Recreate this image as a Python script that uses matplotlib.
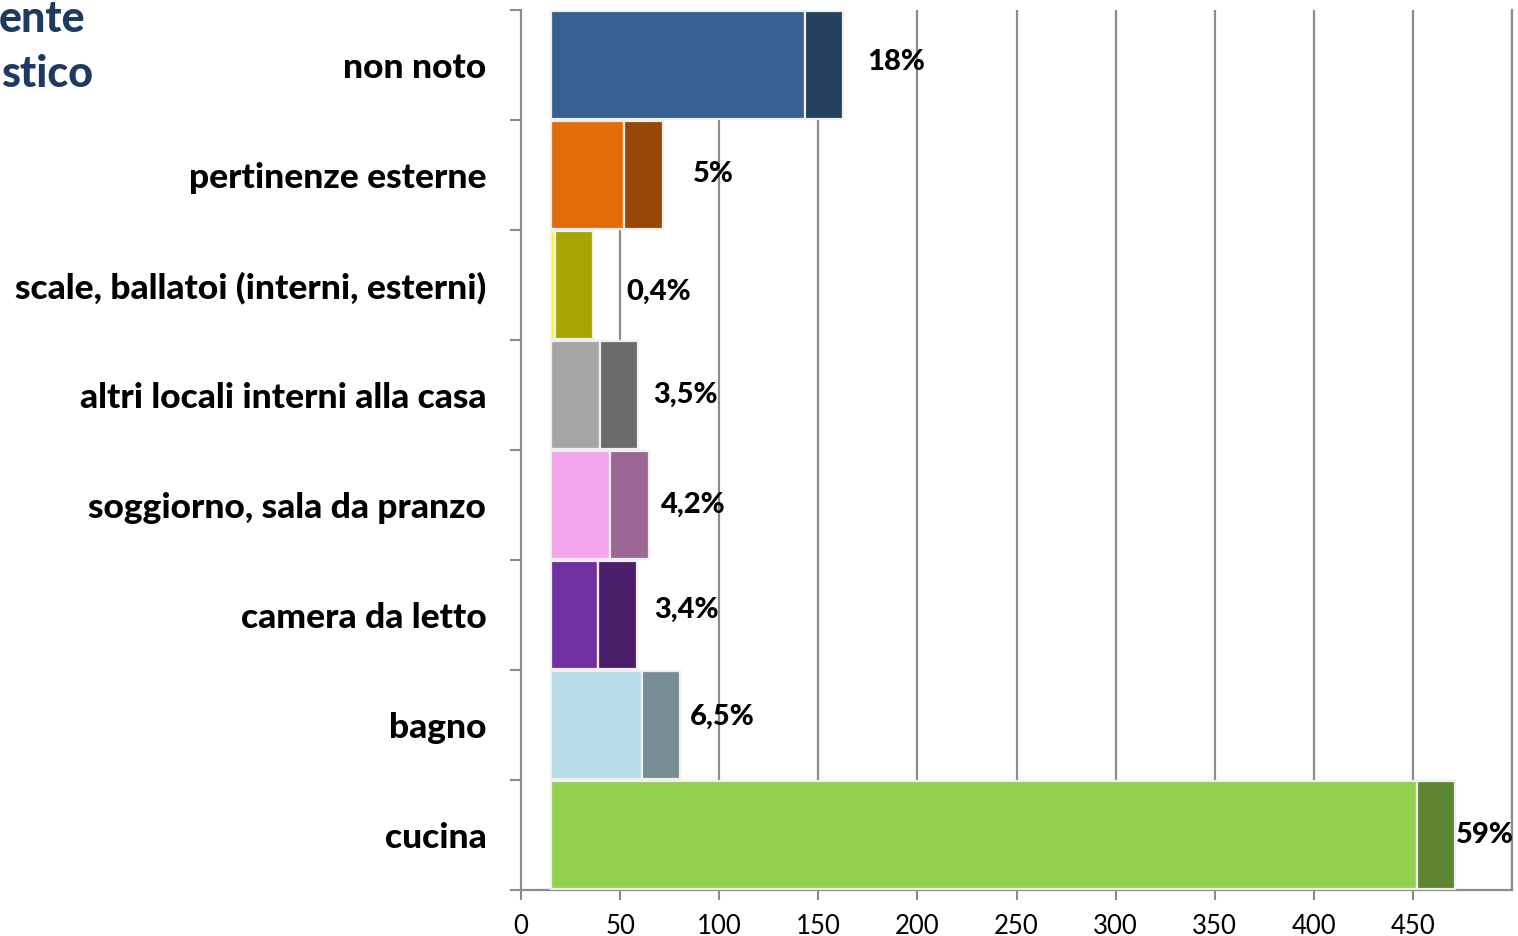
import matplotlib
matplotlib.use('Agg')
import matplotlib.pyplot as plt
import numpy as np

# categories, top to bottom
categories = ['non noto', 'pertinenze esterne', 'scale, ballatoi (interni, esterni)',
              'altri locali interni alla casa', 'soggiorno, sala da pranzo',
              'camera da letto', 'bagno', 'cucina']
seg_main = [128.2, 36.9, 2.0, 24.8, 29.8, 23.9, 45.8, 436.9]
seg_extra = [19.4, 19.5, 19.2, 19.2, 19.6, 19.4, 19.4, 19.1]
pct_labels = ['18%', '5%', '0,4%', '3,5%', '4,2%', '3,4%', '6,5%', '59%']

main_colors = ['#376092', '#E36C0A', '#FFFF00', '#A6A6A6', '#F3A6EC', '#7030A0', '#B7DEE8', '#92D050']
extra_colors = ['#243F60', '#974806', '#A6A500', '#6B6B6B', '#9D6795', '#4A1E6B', '#768E93', '#5E8532']

# label offsets in pixels (dx, dy) from the end of each bar
label_offsets = [(24, 3), (30, 1), (34, -7), (15, 0), (12, 0), (18, 5), (10, 8), (1, 0)]

BAR_START = 15
FONT = 'Lato'

fig = plt.figure(figsize=(15.18, 9.36), dpi=100, facecolor='white')
ax = fig.add_axes([521 / 1518, 46 / 936, (1512 - 521) / 1518, 880 / 936])

n = len(categories)
ypos = np.arange(n)[::-1]
grid_c = '#8c8c8c'

for i in range(n):
    y = ypos[i]
    ax.barh(y, seg_main[i], left=BAR_START, height=0.985, color=main_colors[i],
            edgecolor='#efefef', linewidth=1.6, zorder=3)
    ax.barh(y, seg_extra[i], left=BAR_START + seg_main[i], height=0.985,
            color=extra_colors[i], edgecolor='#efefef', linewidth=1.6, zorder=3)
    end = BAR_START + seg_main[i] + seg_extra[i]
    dx, dy = label_offsets[i]
    ax.annotate(pct_labels[i], xy=(end, y), xytext=(dx * 0.72, dy * 0.72),
                textcoords='offset points', ha='left', va='center',
                fontsize=21, fontweight='black', family=FONT, color='black', zorder=5)

ax.set_xlim(0, 500)
ax.set_ylim(-0.5, n - 0.5)

# gridlines
for gx in range(50, 501, 50):
    ax.axvline(gx, color=grid_c, linewidth=1.6, zorder=1)

ax.set_xticks(np.arange(0, 451, 50))
ax.set_xticklabels([str(v) for v in range(0, 451, 50)], fontsize=18.5, family=FONT)
ax.tick_params(axis='x', direction='out', length=7, width=1.5, color=grid_c, pad=10)

ax.set_yticks(np.arange(-0.5, n, 1.0))
ax.set_yticklabels([])
ax.tick_params(axis='y', which='major', direction='out', length=8, width=1.5, color=grid_c)
ax.set_yticks(ypos, minor=True)
ax.set_yticklabels(categories, minor=True, fontsize=25.5, fontweight='black', family=FONT)
ax.tick_params(axis='y', which='minor', length=0, pad=25)

for side in ['left', 'bottom', 'right']:
    ax.spines[side].set_color(grid_c)
    ax.spines[side].set_linewidth(1.6)
ax.spines['top'].set_visible(False)

# title fragments at top left
fig.text(85 / 1518, 1 - 19 / 936, 'ente', ha='right', va='center', fontsize=31,
         fontweight='black', family=FONT, color='#1F3A60')
fig.text(93 / 1518, 1 - 74 / 936, 'stico', ha='right', va='center', fontsize=31,
         fontweight='black', family=FONT, color='#1F3A60')

plt.savefig('out.png', dpi=100, facecolor='white')
plt.close()
